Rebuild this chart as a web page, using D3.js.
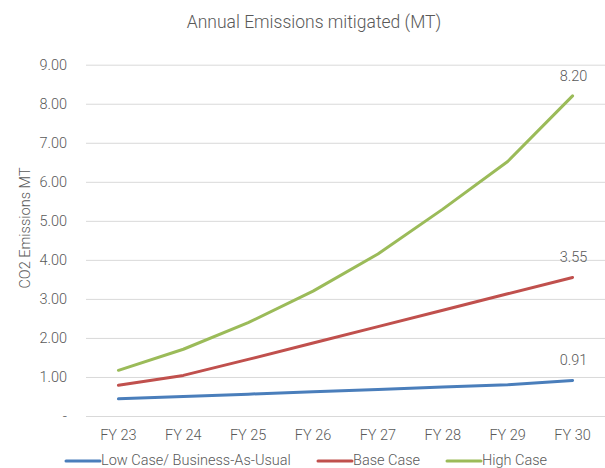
<!DOCTYPE html>
<html>
<head>
<meta charset="utf-8">
<script src="https://cdn.jsdelivr.net/npm/d3@7"></script>
<style>
  body { margin: 0; background: #fff; }
  text { font-family: Roboto, "Open Sans", sans-serif; font-weight: 300; fill: #595959; }
</style>
</head>
<body>
<svg id="chart" width="605" height="468"></svg>
<script>
var years = ["FY 23","FY 24","FY 25","FY 26","FY 27","FY 28","FY 29","FY 30"];
var lowCase = [0.44, 0.50, 0.56, 0.62, 0.68, 0.74, 0.80, 0.91];
var baseCase = [0.79, 1.04, 1.45, 1.87, 2.29, 2.71, 3.13, 3.55];
var highCase = [1.17, 1.71, 2.39, 3.20, 4.15, 5.30, 6.52, 8.20];
var yTicks = [0, 1, 2, 3, 4, 5, 6, 7, 8, 9];
var seriesNames = ["Low Case/ Business-As-Usual", "Base Case", "High Case"];

var svg = d3.select("#chart");

var x = d3.scaleBand().domain(years).range([86, 605]);
var y = d3.scaleLinear().domain([0, 9]).range([416, 64.7]);

var colors = d3.scaleOrdinal().domain(seriesNames).range(["#4a7ebb", "#c0504d", "#9bbb59"]);

// title
svg.append("text")
    .attr("x", 314).attr("y", 28)
    .attr("text-anchor", "middle")
    .attr("font-size", 17.5)
    .text("Annual Emissions mitigated (MT)");

// y axis title
svg.append("text")
    .attr("transform", "translate(30,228) rotate(-90)")
    .attr("text-anchor", "middle")
    .attr("font-size", 14.5)
    .text("CO2 Emissions MT");

// gridlines + y labels
var yAxis = d3.axisLeft(y).tickValues(yTicks).tickSize(-(605 - 86)).tickPadding(19)
    .tickFormat(function(d){ return d == 0 ? "-" : d3.format(".2f")(d); });
var gy = svg.append("g").attr("transform", "translate(86,0)").call(yAxis);
gy.select(".domain").remove();
gy.selectAll(".tick line").attr("stroke", "#d9d9d9");
gy.selectAll(".tick text").attr("font-size", 14.5).attr("fill", "#595959")
    .style("font-family", "Roboto, sans-serif").style("font-weight", 300);

// x labels
var xAxis = d3.axisBottom(x).tickSize(0).tickPadding(14);
var gx = svg.append("g").attr("transform", "translate(0,416)").call(xAxis);
gx.select(".domain").attr("stroke", "#d9d9d9");
gx.selectAll(".tick text").attr("font-size", 14.5).attr("fill", "#595959")
    .style("font-family", "Roboto, sans-serif").style("font-weight", 300);

var allSeries = [lowCase, baseCase, highCase];
var line = d3.line()
    .x(function(d, i){ return x(years[i]) + x.bandwidth() / 2; })
    .y(function(d){ return y(d); });

svg.selectAll(".series")
    .data(allSeries)
    .enter()
    .append("path")
    .attr("class", "series")
    .attr("d", line)
    .attr("fill", "none")
    .attr("stroke", function(d, i){ return colors(seriesNames[i]); })
    .attr("stroke-width", 3)
    .attr("stroke-linecap", "round")
    .attr("stroke-linejoin", "round");

// end labels
svg.selectAll(".endLabel")
    .data(allSeries)
    .enter()
    .append("text")
    .attr("class", "endLabel")
    .attr("x", x(years[years.length - 1]) + x.bandwidth() / 2 + 1)
    .attr("y", function(d){ return y(d[d.length - 1]) - 15; })
    .attr("text-anchor", "middle")
    .attr("font-size", 14.5)
    .text(function(d){ return d3.format(".2f")(d[d.length - 1]); });

// legend
var legendX = [66, 318, 447];
var legend = svg.selectAll(".legend")
    .data(seriesNames)
    .enter()
    .append("g")
    .attr("class", "legend")
    .attr("transform", function(d, i){ return "translate(" + legendX[i] + ",461)"; });

legend.append("line")
    .attr("x1", 0).attr("x2", 34)
    .attr("stroke", function(d){ return colors(d); })
    .attr("stroke-width", 3)
    .attr("stroke-linecap", "round");

legend.append("text")
    .attr("x", 35).attr("y", 4)
    .attr("font-size", 14.5)
    .text(function(d){ return d; });
</script>
</body>
</html>
